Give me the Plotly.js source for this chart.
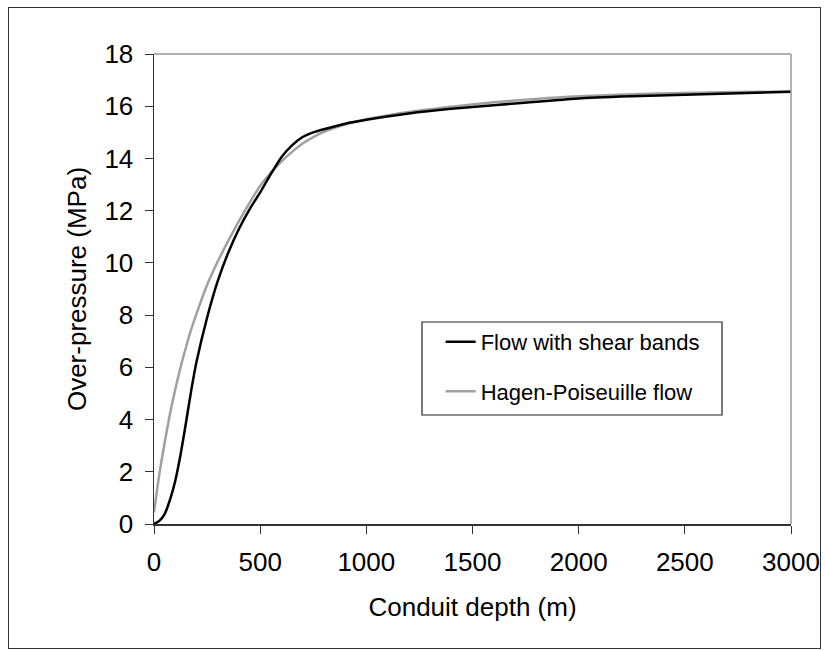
<!DOCTYPE html>
<html><head><meta charset="utf-8">
<script src="https://cdn.plot.ly/plotly-3.0.1.min.js"></script>
<style>
html,body{margin:0;padding:0;background:#fff;}
#frame{position:absolute;left:8px;top:7px;width:811px;height:640px;border:1px solid #333;}
#chart{width:811px;height:640px;}
</style></head>
<body><div id="frame"><div id="chart"></div></div>
<script>
// Conduit depth (m)
const depth = [0,25,50,75,100,125,150,175,200,250,300,350,400,450,500,550,600,650,700,750,800,900,1000,1200,1400,1600,1800,2000,2250,2500,2750,3000];
// Over-pressure (MPa), flow with shear bands
const shearBands = [0,0.12,0.38,0.92,1.65,2.65,3.85,5.1,6.2,7.9,9.3,10.4,11.3,12.05,12.7,13.4,14.05,14.5,14.82,15.0,15.12,15.33,15.48,15.72,15.9,16.04,16.17,16.3,16.38,16.44,16.5,16.55];
// Over-pressure (MPa), Hagen-Poiseuille flow
const poiseuille = [0.45,1.9,3.1,4.2,5.15,6.0,6.75,7.45,8.05,9.15,10.05,10.85,11.6,12.3,12.95,13.45,13.88,14.25,14.57,14.82,15.02,15.3,15.5,15.78,15.98,16.15,16.28,16.38,16.46,16.51,16.54,16.56];
const seriesNames = ['Flow with shear bands', 'Hagen-Poiseuille flow'];
const xTickVals = [0,500,1000,1500,2000,2500,3000];
const yTickVals = [0,2,4,6,8,10,12,14,16,18];
const xTitle = 'Conduit depth (m)';
const yTitle = 'Over-pressure (MPa)';

const FONT = '"Liberation Sans", Arial, sans-serif';

const traces = [
  {x: depth, y: poiseuille, name: seriesNames[1], mode: 'lines', legendgroup: 'b', legendrank: 2,
   line: {color: '#a0a0a0', width: 2.5, shape: 'spline', smoothing: 0.8}},
  {x: depth, y: shearBands, name: seriesNames[0], mode: 'lines', legendgroup: 'a', legendrank: 1,
   line: {color: '#000000', width: 2.5, shape: 'spline', smoothing: 0.6}}
];

const layout = {
  width: 811, height: 640,
  margin: {l: 145, r: 29, t: 46, b: 124},
  paper_bgcolor: '#ffffff', plot_bgcolor: '#ffffff',
  font: {family: FONT, color: '#000', size: 26},
  showlegend: true,
  legend: {x: 0.45, y: 0.432, xanchor: 'left', yanchor: 'top', bgcolor: 'rgba(0,0,0,0)',
           borderwidth: 0, font: {family: FONT, size: 22, color: '#000'},
           traceorder: 'grouped', tracegroupgap: 18},
  xaxis: {range: [0, 3000], tickvals: xTickVals, ticks: 'outside', ticklen: 8, tickcolor: '#333', tickwidth: 1,
          showline: true, linecolor: '#333', linewidth: 1.5, showgrid: false, zeroline: false,
          ticklabelstandoff: 6,
          tickfont: {size: 26}, title: {text: xTitle, font: {size: 26}, standoff: 22}},
  yaxis: {range: [0, 18], tickvals: yTickVals, ticks: 'outside', ticklen: 8, tickcolor: '#333', tickwidth: 1,
          showline: true, linecolor: '#333', linewidth: 1.5, showgrid: false, zeroline: false,
          ticklabelstandoff: 6,
          tickfont: {size: 26}, title: {text: yTitle, font: {size: 26}, standoff: 10}},
  shapes: [
    {type: 'line', xref: 'paper', yref: 'paper', x0: 0, x1: 1, y0: 1, y1: 1, line: {color: '#999', width: 1.5}},
    {type: 'line', xref: 'paper', yref: 'paper', x0: 1, x1: 1, y0: 0, y1: 1, line: {color: '#999', width: 1.5}},
    {type: 'rect', xref: 'paper', yref: 'paper', x0: 0.4207, x1: 0.8917, y0: 0.2319, y1: 0.4298,
     line: {color: '#222', width: 1.2}, fillcolor: 'rgba(0,0,0,0)'}
  ]
};

Plotly.newPlot('chart', traces, layout, {displayModeBar: false, staticPlot: true});
</script>
</body></html>
